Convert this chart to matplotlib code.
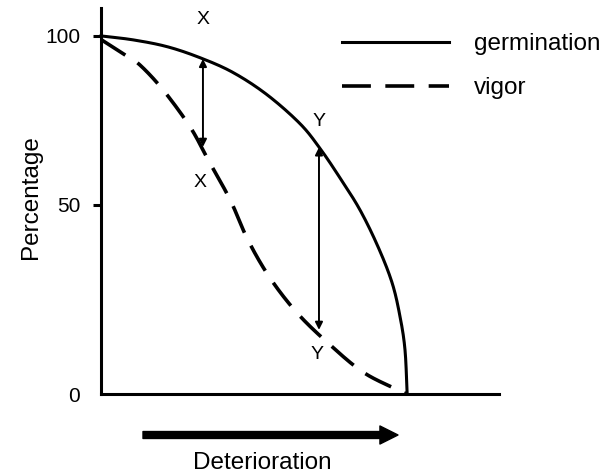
import matplotlib
matplotlib.use("Agg")
import matplotlib.pyplot as plt
import numpy as np

plt.rcParams['font.family'] = ['Liberation Sans', 'DejaVu Sans']

# germination curve (deterioration 0-100 vs percentage)
germ_x = [0, 10.5, 21.6, 32.4, 43.1, 54.2, 65.0, 71.6, 78.1, 84.6, 90.5, 95.1, 97.7, 99.3, 100]
germ_y = [100, 98.9, 97.0, 93.9, 89.8, 83.6, 75.5, 68.5, 60.3, 51.4, 41.1, 31.0, 21.5, 12.3, 0]

# vigor curve
vig_x = [0, 7.8, 12.7, 20.3, 29.1, 35.0, 42.2, 48.0, 55.2, 64.1, 74.2, 85.6, 97.1, 100]
vig_y = [99, 94.7, 91.9, 84.9, 74.6, 65.4, 54.2, 43.0, 32.4, 22.6, 14.2, 6.1, 1.1, 0]

# gap markers
gap_names = ["X", "Y"]
gap_x = [33.3, 71.2]
gap_top = [93.6, 68.9]
gap_bottom = [69.0, 17.9]
label_top = [104.5, 76.0]
label_bottom = [59.2, 10.9]

ytick_pos = [0, 52.8, 100]
ytick_labels = ["0", "50", "100"]


def smooth(xs, ys):
    # Catmull-Rom through the read points
    xs = np.asarray(xs, float)
    ys = np.asarray(ys, float)
    px = np.concatenate([[2 * xs[0] - xs[1]], xs, [2 * xs[-1] - xs[-2]]])
    py = np.concatenate([[2 * ys[0] - ys[1]], ys, [2 * ys[-1] - ys[-2]]])
    outx, outy = [], []
    t = np.linspace(0, 1, 25, endpoint=False)
    for i in range(1, len(px) - 2):
        for arr, out in ((px, outx), (py, outy)):
            p0, p1, p2, p3 = arr[i - 1], arr[i], arr[i + 1], arr[i + 2]
            out.extend(0.5 * ((2 * p1) + (-p0 + p2) * t
                              + (2 * p0 - 5 * p1 + 4 * p2 - p3) * t ** 2
                              + (-p0 + 3 * p1 - 3 * p2 + p3) * t ** 3))
    outx.append(xs[-1])
    outy.append(ys[-1])
    return np.array(outx), np.array(outy)


fig = plt.figure(figsize=(6.08, 4.76), dpi=100)
ax = fig.add_axes([101 / 608, 1 - 394 / 476, 398 / 608, 386 / 476])
ax.set_xlim(0, 130)
ax.set_ylim(0, 107.8)

gx, gy = smooth(germ_x, germ_y)
vx, vy = smooth(vig_x, vig_y)
ax.plot(gx, gy, color="black", lw=2.2, label="germination", clip_on=False)
ax.plot(vx, vy, color="black", lw=2.6, linestyle=(0, (8, 4)), label="vigor",
        clip_on=False)

for name, x, top, bot, lt, lb in zip(gap_names, gap_x, gap_top, gap_bottom,
                                     label_top, label_bottom):
    ax.annotate("", xy=(x, bot), xytext=(x, top),
                arrowprops=dict(arrowstyle="<|-|>", color="black", lw=1.4,
                                mutation_scale=11, shrinkA=0, shrinkB=0))
    ax.text(x, lt, name, ha="center", va="center", fontsize=14)
    ax.text(x - 0.8, lb, name, ha="center", va="center", fontsize=14)

for side in ["top", "right"]:
    ax.spines[side].set_visible(False)
for side in ["left", "bottom"]:
    ax.spines[side].set_linewidth(2.2)
    ax.spines[side].set_capstyle("projecting")

ax.set_xticks([])
ax.set_yticks(ytick_pos)
ax.set_yticklabels(ytick_labels, fontsize=15)
ax.tick_params(axis="y", length=6, width=2.2, pad=9)
ax.yaxis.get_major_ticks()[0].tick1line.set_visible(False)

ax.set_ylabel("Percentage", fontsize=17.5)
ax.yaxis.set_label_coords(-0.148, 0.51)

leg = ax.legend(loc="upper left", bbox_to_anchor=(0.55, 0.991), frameon=False,
                fontsize=17.5, handlelength=4.4, handletextpad=1.05,
                labelspacing=0.9)

# direction arrow under the x axis
fig.text(262 / 608, 1 - 463 / 476, "Deterioration", ha="center", va="center",
         fontsize=17.5)
ax.annotate("", xy=(398 / 608, 1 - 435 / 476), xytext=(143 / 608, 1 - 435 / 476),
            xycoords="figure fraction", textcoords="figure fraction",
            arrowprops=dict(width=5, headwidth=13, headlength=13, shrink=0,
                            color="black"))

fig.savefig("out.png", dpi=100)
